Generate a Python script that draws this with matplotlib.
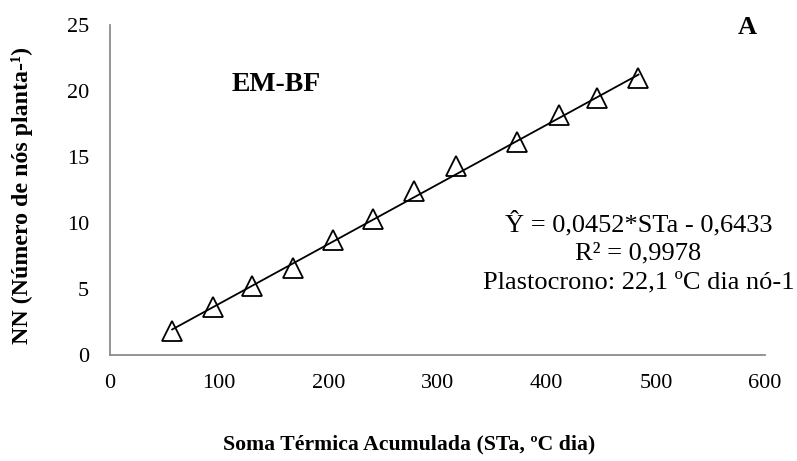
import matplotlib
matplotlib.use("Agg")
import matplotlib.pyplot as plt
import numpy as np

# Data
sta = [57, 94, 130, 168, 204, 241, 278, 317, 373, 411, 446, 484]
nn = [1.8, 3.6, 5.2, 6.6, 8.7, 10.3, 12.4, 14.3, 16.1, 18.2, 19.5, 21.0]
slope = 0.0452
intercept = -0.6433
x_ticks = [0, 100, 200, 300, 400, 500, 600]
y_ticks = [0, 5, 10, 15, 20, 25]

plt.rcParams['font.family'] = ['Liberation Serif', 'DejaVu Serif']

fig = plt.figure(figsize=(7.97, 4.61), dpi=100)
ax = fig.add_axes([0.138, 0.230, 0.822, 0.716])

xfit = np.array([min(sta), max(sta)])
ax.plot(xfit, slope * xfit + intercept, color='black', lw=1.3, zorder=2)
ax.plot(sta, nn, linestyle='none', marker='^', markersize=14,
        markerfacecolor='none', markeredgecolor='black', markeredgewidth=1.3, zorder=3)

ax.set_xlim(0, 600)
ax.set_ylim(0, 25)
ax.set_xticks(x_ticks)
ax.set_yticks(y_ticks)
ax.tick_params(length=0, labelsize=16)
ax.tick_params(axis='x', pad=14)
ax.tick_params(axis='y', pad=15)
for s in ['top', 'right']:
    ax.spines[s].set_visible(False)
for s in ['left', 'bottom']:
    ax.spines[s].set_color('#8c8c8c')
    ax.spines[s].set_linewidth(1.3)

fig.text(409 / 797, 1 - 444 / 461, 'Soma Térmica Acumulada (STa, ºC dia)',
         fontsize=15.7, fontweight='bold', ha='center', va='center')
fig.text(22 / 797, 1 - 196 / 461, 'NN (Número de nós planta-¹)',
         fontsize=17.2, fontweight='bold', ha='center', va='center', rotation=90)

ax.text(152, 20.5, 'EM-BF', fontsize=20, fontweight='bold', ha='center', va='center')
fig.text(747 / 797, 1 - 28 / 461, 'A', fontsize=19, fontweight='bold', ha='center', va='center')

ax.text(484, 7.8, 'Ŷ = 0,0452*STa - 0,6433\nR² = 0,9978\nPlastocrono: 22,1 ºC dia nó-1',
        fontsize=19, ha='center', va='center', linespacing=1.38)

fig.savefig('out.png', dpi=100)
